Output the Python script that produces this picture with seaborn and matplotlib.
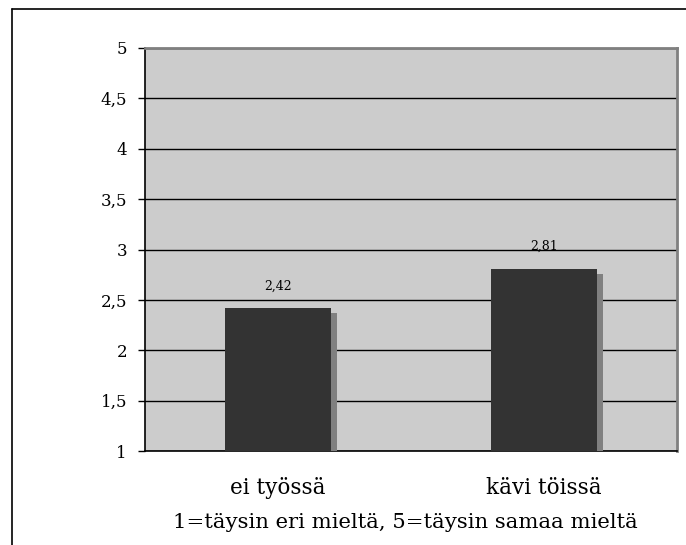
import matplotlib
matplotlib.use("Agg")
import matplotlib.pyplot as plt
import matplotlib.patheffects as pe
from matplotlib.lines import Line2D
import seaborn as sns
import pandas as pd

categories = ["ei työssä", "kävi töissä"]
values = [2.42, 2.81]
value_labels = ["2,42", "2,81"]
yticks = [1, 1.5, 2, 2.5, 3, 3.5, 4, 4.5, 5]
ytick_labels = ["1", "1,5", "2", "2,5", "3", "3,5", "4", "4,5", "5"]
subtitle = "1=täysin eri mieltä, 5=täysin samaa mieltä"

sns.set_theme(style="white")
plt.rcParams["font.family"] = ["DejaVu Serif"]
plt.rcParams["text.color"] = "black"
plt.rcParams["xtick.color"] = "black"
plt.rcParams["ytick.color"] = "black"

df = pd.DataFrame({"cat": categories, "val": values})

fig = plt.figure(figsize=(6.86, 5.45), dpi=100)
fig.patch.set_facecolor("white")
ax = fig.add_axes([145/686, 1-451/545, (677-145)/686, (451-48)/545])
ax.set_facecolor("#cccccc")

sns.barplot(data=df, x="cat", y="val", color="#333333", width=0.40,
            saturation=1, ax=ax, zorder=3)
for p in ax.patches:
    p.set_edgecolor("none")
    p.set_path_effects([pe.SimplePatchShadow(offset=(4.3, -3.6),
                                             shadow_rgbFace="#808080", alpha=1.0),
                        pe.Normal()])

ax.set_ylim(1, 5)
ax.set_xlim(-0.5, 1.5)
ax.set_yticks(yticks)
ax.set_yticklabels(ytick_labels, fontsize=12)
ax.yaxis.grid(True, color="black", linewidth=1)
ax.set_axisbelow(True)

ax.set_xticks([-0.5, 0.5, 1.5])
ax.set_xticklabels([])
ax.set_xticks([0, 1], minor=True)
ax.set_xticklabels(categories, minor=True, fontsize=15.5)
ax.tick_params(axis="x", which="minor", length=0, pad=19)
ax.tick_params(axis="x", which="major", length=5, width=1, color="black", direction="out")
ax.tick_params(axis="y", length=5, width=1, color="black", direction="out", pad=8, left=True)
ax.set_xlabel("")
ax.set_ylabel("")

for i, (v, lab) in enumerate(zip(values, value_labels)):
    ax.text(i, v + 0.22, lab, ha="center", va="center", fontsize=9, color="black")

for s in ["left", "bottom"]:
    ax.spines[s].set_color("black")
    ax.spines[s].set_linewidth(1.2)
for s in ["top", "right"]:
    ax.spines[s].set_color("#808080")
    ax.spines[s].set_linewidth(2)
    ax.spines[s].set_visible(True)

fig.text(405/686, 1-523/545, subtitle, ha="center", va="center", fontsize=15.2)

fig.add_artist(Line2D([12/686, 12/686], [0, 1-9/545], transform=fig.transFigure, color="black", lw=1.2))
fig.add_artist(Line2D([12/686, 1], [1-9/545, 1-9/545], transform=fig.transFigure, color="black", lw=1.2))

fig.savefig("out.png", dpi=100)
